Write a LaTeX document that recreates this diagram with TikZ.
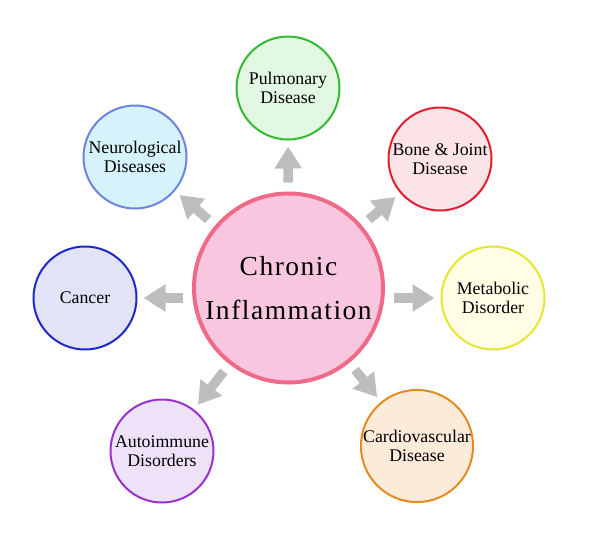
\documentclass[tikz,border=0pt]{standalone}
\usepackage{fontspec}
\setmainfont{Liberation Serif}
\newfontfamily\widefont[LetterSpace=5.5]{Liberation Serif}
\usetikzlibrary{arrows.meta}

\definecolor{chronicfill}{HTML}{F8C6DE}
\definecolor{chronicline}{HTML}{EE6A88}
\definecolor{pulmfill}{HTML}{E3F8E3}
\definecolor{pulmline}{HTML}{2EBB2E}
\definecolor{bonefill}{HTML}{FCE3E8}
\definecolor{boneline}{HTML}{E0202E}
\definecolor{metafill}{HTML}{FFFDE3}
\definecolor{metaline}{HTML}{E5E532}
\definecolor{cardiofill}{HTML}{FDEBDA}
\definecolor{cardioline}{HTML}{E58A1E}
\definecolor{autofill}{HTML}{EEE2F8}
\definecolor{autoline}{HTML}{9B30D0}
\definecolor{cancerfill}{HTML}{E3E3F8}
\definecolor{cancerline}{HTML}{1E28C8}
\definecolor{neurofill}{HTML}{D6F2FA}
\definecolor{neuroline}{HTML}{6C84E0}
\definecolor{spokegray}{HTML}{BDBDBD}

\begin{document}
\begin{tikzpicture}[x=1pt,y=-1pt,
    disease/.style={circle,line width=2pt,minimum size=103pt,inner sep=0pt,align=center,
      font=\fontsize{17.8}{19}\selectfont},
    spoke/.style={draw=spokegray,line width=9.5pt,-{Triangle[length=22pt,width=26pt]},
      shorten <=9pt,shorten >=6pt}]
      \useasboundingbox (0,0) rectangle (600,539);
      % central circle
      \node[circle,draw=chronicline,fill=chronicfill,line width=4pt,minimum size=189pt,
        align=center,font=\widefont\fontsize{27.5}{44}\selectfont] (chronic) at (288.5,288)
        {Chronic\\Inflammation};
      % outer circles, clockwise from the top
      \node[disease,draw=pulmline,fill=pulmfill] (pulmonary) at (288,88) {Pulmonary\\Disease};
      \node[disease,draw=boneline,fill=bonefill] (bone) at (440,159) {Bone \& Joint\\Disease};
      \node[disease,draw=metaline,fill=metafill] (metabolic) at (493,298) {Metabolic\\Disorder};
      \node[disease,draw=cardioline,fill=cardiofill] (cardio) at (417,446) {Cardiovascular\\Disease};
      \node[disease,draw=autoline,fill=autofill] (autoimmune) at (162,451) {Autoimmune\\Disorders};
      \node[disease,draw=cancerline,fill=cancerfill] (cancer) at (85,298) {Cancer};
      \node[disease,draw=neuroline,fill=neurofill] (neuro) at (135,157) {Neurological\\Diseases};
      % grey arrows out of the centre (the two side ones run level)
      \foreach \n in {pulmonary,bone,cardio,autoimmune,neuro}{\draw[spoke] (chronic) -- (\n);}
      \draw[spoke] (chronic.east |- metabolic) -- (metabolic);
      \draw[spoke] (chronic.west |- cancer) -- (cancer);
\end{tikzpicture}
\end{document}
